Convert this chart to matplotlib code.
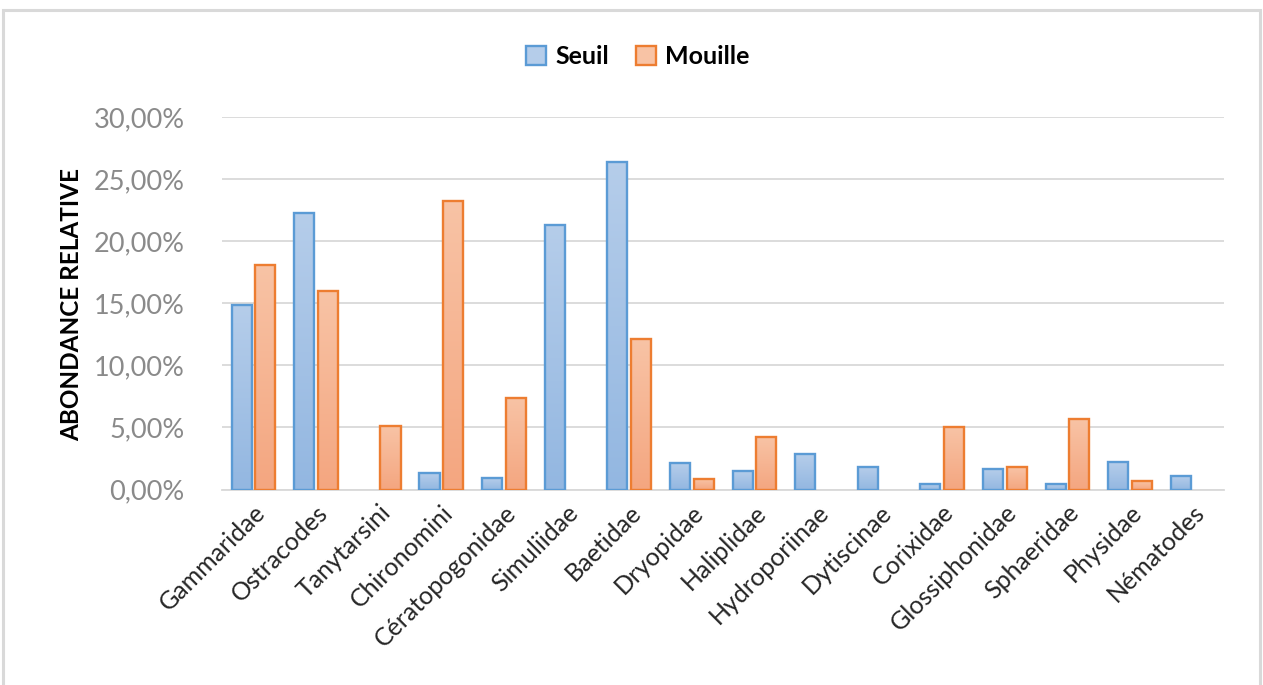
import numpy as np
import matplotlib.pyplot as plt
from matplotlib.patches import Rectangle
from matplotlib.ticker import FuncFormatter
from matplotlib.colors import LinearSegmentedColormap

plt.rcParams['font.family'] = ['Lato', 'DejaVu Sans']

taxa = ["Gammaridae", "Ostracodes", "Tanytarsini", "Chironomini", "Cératopogonidae",
        "Simuliidae", "Baetidae", "Dryopidae", "Haliplidae", "Hydroporiinae",
        "Dytiscinae", "Corixidae", "Glossiphonidae", "Sphaeridae", "Physidae", "Nématodes"]
seuil = [14.9, 22.3, 0.0, 1.3, 0.9, 21.3, 26.4, 2.15, 1.5, 2.9,
         1.8, 0.43, 1.65, 0.43, 2.25, 1.05]
mouille = [18.1, 16.0, 5.1, 23.3, 7.4, 0.0, 12.15, 0.88, 4.2, 0.0,
           0.0, 5.05, 1.78, 5.65, 0.68, 0.0]

series = [
    ("Seuil", np.array(seuil) / 100, "#5b9bd5", "#b5cdea", "#93b7e1", -0.187),
    ("Mouille", np.array(mouille) / 100, "#ed7d31", "#f8c3a5", "#f4a680", 0.19),
]

fig = plt.figure(figsize=(12.63, 6.85), dpi=100)
ax = fig.add_axes([0.1758, 0.2854, 0.7933, 0.5431])

x = np.arange(len(taxa))
width = 0.32

for name, vals, edge, top_col, bot_col, off in series:
    cmap = LinearSegmentedColormap.from_list(name, [bot_col, top_col])
    grad = np.linspace(0, 1, 64).reshape(-1, 1)
    nz = vals > 0
    for xi, v in zip(x[nz], vals[nz]):
        x0 = xi + off - width / 2
        ax.imshow(grad, cmap=cmap, origin="lower", aspect="auto",
                  extent=[x0, x0 + width, 0, v], zorder=2, interpolation="bilinear")
    # empty bars are not drawn at all
    ax.bar(x[nz] + off, vals[nz], width, facecolor="none", edgecolor=edge,
           linewidth=1.7, zorder=3, label=name)

ax.set_xlim(-0.5, len(taxa) - 0.5)
ax.set_ylim(0, 0.30)
ax.set_yticks(np.arange(0, 0.301, 0.05))
ax.yaxis.set_major_formatter(FuncFormatter(lambda v, p: f"{v*100:.2f}%".replace(".", ",")))
ax.set_xticks(x)
ax.set_xticklabels(taxa, rotation=45, ha="right", rotation_mode="anchor",
                   fontsize=18, color="#262626")
ax.tick_params(axis="y", length=0, pad=27, labelsize=19.5, labelcolor="#8a8a8a")
ax.tick_params(axis="x", length=0, pad=8)

ax.grid(axis="y", color="#d9d9d9", linewidth=1.3, zorder=0)
ax.set_axisbelow(True)
for side in ["top", "right", "left"]:
    ax.spines[side].set_visible(False)
ax.spines["bottom"].set_color("#d9d9d9")
ax.spines["bottom"].set_linewidth(1.3)

fig.text(0.057, 0.555, "ABONDANCE RELATIVE", rotation=90, ha="center", va="center",
         fontsize=17.5, fontweight="bold", color="#000000")

# legend with proxy patches carrying the light fill
handles = [Rectangle((0, 0), 1, 1, facecolor=s[3], edgecolor=s[2], linewidth=1.7)
           for s in series]
leg = fig.legend(handles, [s[0] for s in series], loc="center", ncol=2,
                 bbox_to_anchor=(0.505, 0.917), frameon=False,
                 prop={"weight": "bold", "size": 18}, handlelength=0.8,
                 handleheight=0.8, handletextpad=0.35, columnspacing=1.1)

# outer chart frame
fig.patches.append(Rectangle((3 / 1263, -0.02), 1257 / 1263, (685 - 10) / 685 + 0.02,
                             transform=fig.transFigure, fill=False,
                             edgecolor="#d9d9d9", linewidth=2.2, zorder=0))

fig.savefig("out.png", dpi=100, facecolor="white")
